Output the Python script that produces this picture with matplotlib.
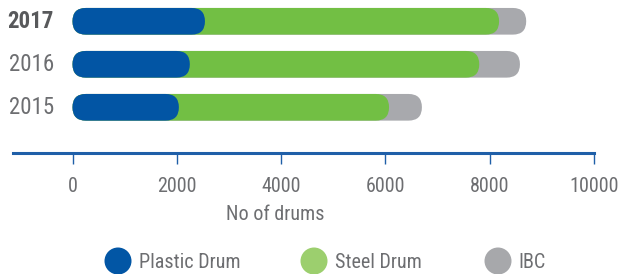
import matplotlib
matplotlib.use("Agg")
import matplotlib.pyplot as plt
from matplotlib.patches import FancyBboxPatch, Ellipse

plt.rcParams['font.family'] = ['Roboto Condensed', 'Archivo Narrow', 'Roboto', 'DejaVu Sans']

years = ['2015', '2016', '2017']
plastic = [2040, 2250, 2540]
steel = [4030, 5550, 5640]
ibc = [630, 780, 520]
xticks = [0, 2000, 4000, 6000, 8000, 10000]
series = ['Plastic Drum', 'Steel Drum', 'IBC']

bar_colors = ['#0255a4', '#72bf44', '#a8a9ad']
legend_colors = ['#0256a5', '#9ccf6e', '#a7a8ab']
text_gray = '#6d6e71'
axis_blue = '#1f5fa8'

W, H = 619, 274
fig = plt.figure(figsize=(W / 100, H / 100), dpi=100)
ax = fig.add_axes([13 / W, (H - 153) / H, 581 / W, 153 / H])
ax.set_xlim(-1141, 10000)
ax.set_ylim(-1.063, 2.495)

ypos = list(range(len(years)))
steel_cum = [p + s for p, s in zip(plastic, steel)]
totals = [c + i for c, i in zip(steel_cum, ibc)]

fig.canvas.draw()
# data units per pixel, used to keep the caps round
x_per_px = 1 / ax.transData.get_matrix()[0, 0]
y_per_px = 1 / ax.transData.get_matrix()[1, 1]
aspect = y_per_px / x_per_px
bar_h = 0.62

# widest first so the shorter stacks sit on top with their round ends
for vals, col in zip([totals, steel_cum, plastic], bar_colors[::-1]):
    bars = ax.barh(ypos, vals, height=bar_h, color=col)
    for r in bars:
        r.set_visible(False)
        rad = (r.get_height() / 2) / aspect
        ax.add_patch(FancyBboxPatch((r.get_x(), r.get_y()), r.get_width(), r.get_height(),
                                    boxstyle=f"round,pad=0,rounding_size={rad}",
                                    mutation_aspect=aspect, fc=col, ec='none'))

# year labels
for y, lab in zip(ypos, years):
    bold = lab == years[-1]
    ax.text(0.0705, y, lab, transform=ax.get_yaxis_transform(), ha='right', va='center',
            fontsize=16.5, fontweight='bold' if bold else 'normal',
            color='#58595b' if bold else text_gray)

for s in ['top', 'right', 'left']:
    ax.spines[s].set_visible(False)
ax.spines['bottom'].set_color(axis_blue)
ax.spines['bottom'].set_linewidth(2.2)
ax.set_yticks([])
ax.set_xticks(xticks)
ax.set_xticklabels([str(t) for t in xticks])
ax.tick_params(axis='x', length=8, width=1, color=axis_blue, pad=9,
               labelsize=14.5, labelcolor=text_gray)

fig.text(275 / W, 1 - 215 / H, 'No of drums', ha='center', va='center',
         fontsize=14.5, color=text_gray)

# legend row
marker_x = [118, 314, 498]
text_x = [139, 335, 518]
for mx, tx, lab, col in zip(marker_x, text_x, series, legend_colors):
    fig.patches.append(Ellipse((mx / W, 1 - 261 / H), 27 / W, 27 / H,
                               transform=fig.transFigure, fc=col, ec='none'))
    fig.text(tx / W, 1 - 262 / H, lab, ha='left', va='center', fontsize=14.5, color=text_gray)

fig.savefig('out.png', dpi=100)
